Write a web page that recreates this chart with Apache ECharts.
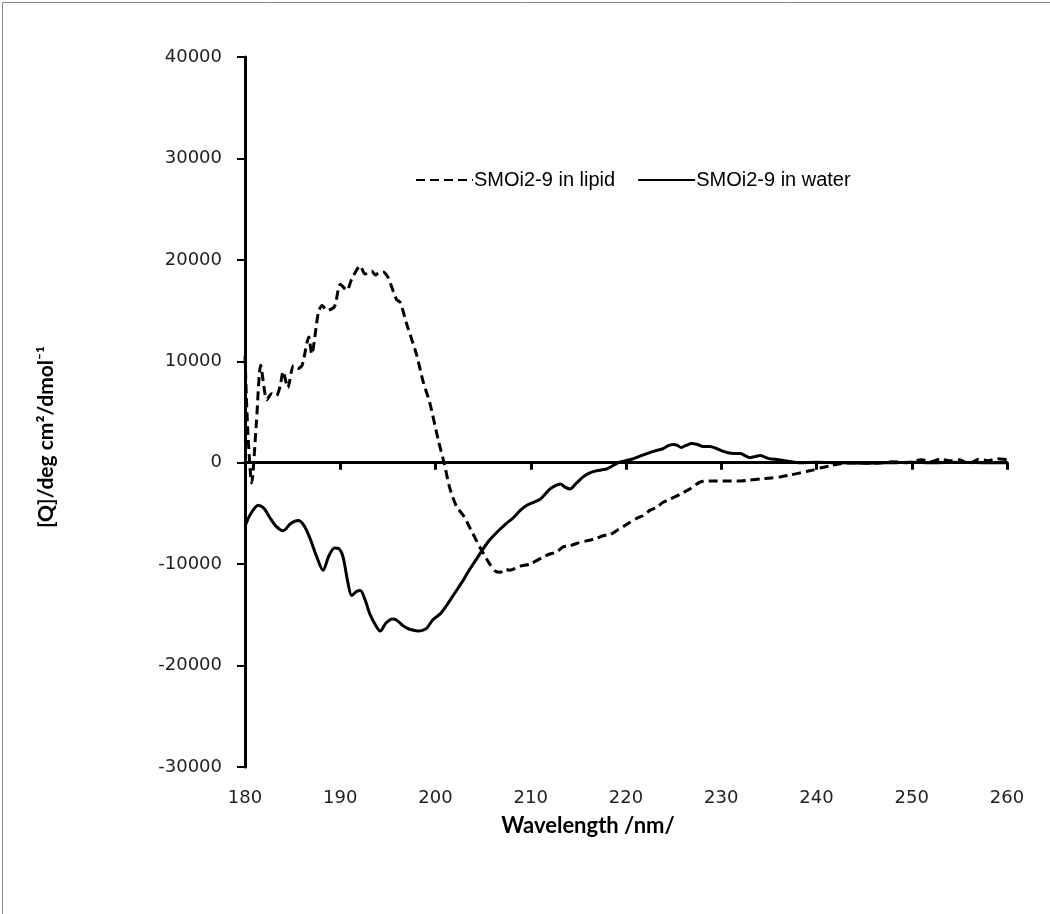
<!DOCTYPE html>
<html>
<head>
<meta charset="utf-8">
<script src="https://cdn.jsdelivr.net/npm/echarts@6/dist/echarts.min.js"></script>
<style>
  html,body{margin:0;padding:0;background:#fff;}
  #chart{width:1050px;height:914px;}
</style>
</head>
<body>
<div id="chart"></div>
<script>
// wavelength (nm) / molar ellipticity readings
const lipidWl = [180,180.3,180.7,181.2,181.65,182.3,182.8,183.3,183.7,184.0,184.5,185.1,185.6,186.0,186.7,187.0,187.7,188.1,188.6,189.4,190.0,190.7,191.2,192.1,192.6,193.3,193.7,194.0,194.5,195.0,195.9,196.3,197.0,198.0,198.7,199.4,200.3,200.9,201.5,202.2,203.0,203.6,204.7,205.7,206.3,206.8,207.3,207.8,208.9,209.9,211.3,212.0,212.7,213.4,214.1,215.0,215.9,216.8,217.6,218.3,219.0,219.7,220.4,221.1,221.8,222.5,223.2,223.9,224.6,225.7,226.7,227.8,229.1,230.6,232,233,234.1,235.2,236.2,237.3,238.3,239.3,240.5,241.5,242.5,244,246,248,249.5,251,252,253,254,255,256,257,258,259,260];
const lipidVal = [10500,3000,-2000,4000,9600,6200,6800,6600,7600,9000,7400,9600,9300,9600,12400,10700,14800,15500,15000,15400,17600,17000,18100,19400,18600,18900,18500,18700,18800,18300,16100,15800,13600,10700,8000,5900,2200,0,-2500,-4300,-5300,-6400,-8400,-10000,-10700,-10800,-10500,-10600,-10200,-10000,-9300,-9000,-8800,-8300,-8200,-7900,-7700,-7500,-7200,-7100,-6700,-6300,-5900,-5500,-5200,-4700,-4400,-3900,-3600,-3100,-2600,-1900,-1800,-1800,-1800,-1700,-1600,-1500,-1400,-1200,-1000,-800,-500,-300,-100,0,-50,100,0,300,100,350,200,300,-100,350,200,400,300];

const waterWl = [180,180.5,181.4,182,182.6,183.3,184,184.8,185.6,186.2,186.8,187.5,188.2,188.8,189.4,189.9,190.3,190.8,191.2,191.7,192.1,192.6,193.1,193.7,194.2,194.8,195.5,195.9,196.5,197.0,197.6,198.2,198.7,199.1,199.7,200.5,201.0,201.5,202.2,202.9,203.6,204.3,205.0,205.7,206.4,207.3,208.2,208.9,209.6,210.3,211.0,211.5,212.0,212.5,213.1,213.6,214.1,214.8,215.5,216.2,216.9,217.5,218.0,218.6,219.2,220.0,220.8,221.6,222.5,223.2,223.9,224.5,225.0,225.4,225.8,226.3,226.9,227.5,228.1,228.8,229.5,230.0,230.6,231.3,232.0,232.5,233.0,233.5,234.1,235,236,237,238.3,240,242,245,248,250,252,255,258,260];
const waterVal = [-6300,-5200,-4200,-4500,-5400,-6300,-6700,-6000,-5700,-6200,-7400,-9200,-10600,-9200,-8400,-8500,-9300,-11800,-13100,-12700,-12600,-13500,-14900,-16000,-16600,-15800,-15400,-15500,-16000,-16300,-16500,-16600,-16500,-16300,-15500,-14900,-14300,-13600,-12600,-11600,-10500,-9500,-8500,-7600,-6900,-6100,-5400,-4700,-4200,-3900,-3600,-3100,-2600,-2300,-2100,-2400,-2600,-2000,-1400,-1000,-800,-700,-600,-300,0,200,400,700,1000,1200,1400,1700,1800,1700,1500,1700,1900,1800,1600,1600,1400,1200,1000,900,900,700,500,600,700,400,300,150,0,50,0,-50,0,50,0,50,0,0];

const seriesNames = ["SMOi2-9 in lipid","SMOi2-9 in water"];
const yTitle = "[Q]/deg cm\u00b2/dmol\u207b\u00b9";
const xTitle = "Wavelength /nm/";

const chart = echarts.init(document.getElementById("chart"));
const axisLine = {lineStyle:{color:"#000",width:3}};
const tickFont = {fontFamily:"DejaVu Sans",fontSize:18,color:"#222",formatter:v => String(v)};
chart.setOption({
  backgroundColor:"#fff",
  animation:false,
  grid:{left:245,right:43,top:57,bottom:147},
  legend:{
    left:410, top:165, itemWidth:57, itemHeight:14, itemGap:22,
    itemStyle:{color:"rgba(0,0,0,0)",borderWidth:0},
    textStyle:{fontFamily:"Liberation Sans, Arial",fontSize:20,color:"#000",padding:[0,0,0,-4]},
    data:seriesNames
  },
  graphic:[
    {type:"rect",left:0,top:0,shape:{x:0.5,y:0.5,width:1048,height:912},style:{fill:"none",stroke:"#8a8a8a",lineWidth:1},silent:true},
    {type:"text",x:588,y:826,style:{text:xTitle,font:"bold 22px Lato, 'Open Sans', sans-serif",fill:"#000",align:"center",verticalAlign:"middle"}},
    {type:"text",x:46,y:437,rotation:Math.PI/2,style:{text:yTitle,font:"bold 21px Lato, 'Open Sans', sans-serif",fill:"#000",align:"center",verticalAlign:"middle"}}
  ],
  xAxis:{
    type:"value",min:180,max:260,interval:10,
    axisLine:{...axisLine,onZero:true},
    axisTick:{show:true,length:7,lineStyle:{color:"#000",width:3}},
    axisLabel:{margin:22,...tickFont},
    splitLine:{show:false}
  },
  yAxis:{
    type:"value",min:-30000,max:40000,interval:10000,
    axisLine:{show:true,...axisLine},
    axisTick:{show:true,length:8,lineStyle:{color:"#000",width:2}},
    axisLabel:{margin:23,...tickFont},
    splitLine:{show:false}
  },
  series:[
    {name:seriesNames[0],type:"line",symbol:"none",smooth:0.25,z:3,
      lineStyle:{color:"#000",width:3,type:[9,5]},itemStyle:{color:"#000"},
      data:lipidWl.map((w,i)=>[w,lipidVal[i]])},
    {name:seriesNames[1],type:"line",symbol:"none",smooth:0.3,z:4,
      lineStyle:{color:"#000",width:3},itemStyle:{color:"#000"},
      data:waterWl.map((w,i)=>[w,waterVal[i]])}
  ]
});
</script>
</body>
</html>
